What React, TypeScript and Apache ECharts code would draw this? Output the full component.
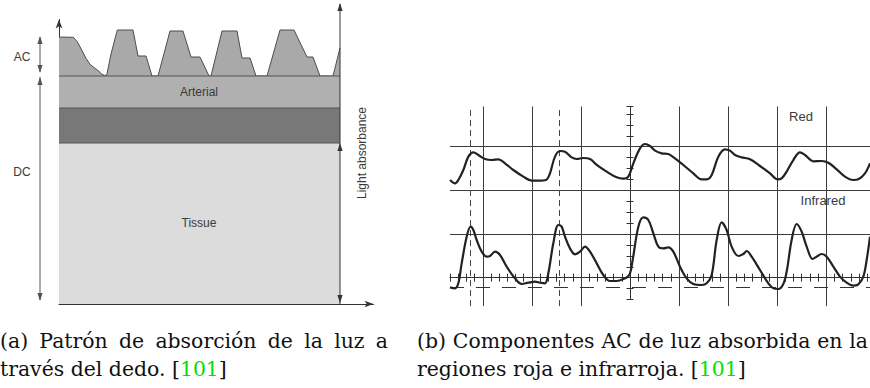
import React, { useEffect, useRef } from 'react';
import * as echarts from 'echarts';

// ---------- Panel (a): absorption pattern (units: absorbance, time) ----------
const AC_WAVE: [number, number][] = [
  [0, 267], [14.3, 266.7], [18.3, 262.3], [22.7, 254], [27, 245.7], [31, 239.7], [36, 235.7],
  [39.3, 233.3], [42.7, 230], [45.3, 228.7], [47.7, 228.7], [52, 250], [58.3, 274], [74, 274],
  [79, 248], [87, 248], [93, 228], [99, 228], [111, 273], [124, 273], [132, 247], [141, 247],
  [150, 228], [152, 228], [163, 273], [178, 273], [183, 246], [191, 246], [197, 228], [208, 228],
  [221, 274], [235, 274], [248, 247], [254, 247], [261, 228], [274, 228], [281, 256],
];
const LAYER_NAMES = ['Arterial', 'Venous', 'Tissue'];
const LAYER_TOPS = [228, 196, 161];
const PANEL_A_END = 281;

// ---------- Panel (b): AC components (units: scope divisions) ----------
const RED: [number, number][] = [
  [-3.669, 2.237], [-3.567, 2.161], [-3.499, 2.237], [-3.397, 2.466], [-3.295, 2.772], [-3.193, 2.871],
  [-3.092, 2.81], [-2.956, 2.718], [-2.82, 2.695], [-2.684, 2.711], [-2.548, 2.619], [-2.378, 2.466],
  [-2.174, 2.314], [-2.004, 2.222], [-1.868, 2.222], [-1.712, 2.237], [-1.631, 2.39], [-1.529, 2.772],
  [-1.427, 2.901], [-1.325, 2.886], [-1.189, 2.756], [-1.087, 2.718], [-0.951, 2.741], [-0.815, 2.718],
  [-0.679, 2.581], [-0.476, 2.428], [-0.272, 2.298], [-0.136, 2.268], [-0.034, 2.314], [0.068, 2.619],
  [0.204, 2.962], [0.306, 3.062], [0.408, 3.016], [0.51, 2.909], [0.645, 2.848], [0.781, 2.833],
  [0.917, 2.733], [1.087, 2.581], [1.291, 2.39], [1.461, 2.253], [1.563, 2.253], [1.665, 2.352],
  [1.8, 2.772], [1.936, 2.94], [2.038, 2.909], [2.14, 2.81], [2.276, 2.756], [2.446, 2.711],
  [2.65, 2.558], [2.854, 2.39], [3.01, 2.253], [3.092, 2.275], [3.193, 2.428], [3.329, 2.695],
  [3.465, 2.871], [3.567, 2.81], [3.737, 2.665], [3.907, 2.672], [4.043, 2.634], [4.213, 2.482],
  [4.382, 2.314], [4.552, 2.237], [4.654, 2.253], [4.79, 2.39], [4.892, 2.619],
];
const INFRARED: [number, number][] = [
  [-3.669, -0.221], [-3.567, -0.243], [-3.499, -0.129], [-3.431, 0.329], [-3.329, 0.94], [-3.248, 1.169],
  [-3.193, 1.092], [-3.125, 0.863], [-3.023, 0.596], [-2.922, 0.482], [-2.854, 0.497], [-2.752, 0.596],
  [-2.65, 0.52], [-2.514, 0.253], [-2.344, -0.014], [-2.208, -0.144], [-2.072, -0.114], [-1.936, -0.091],
  [-1.834, -0.114], [-1.733, -0.129], [-1.665, 0.1], [-1.563, 0.787], [-1.461, 1.207], [-1.393, 1.169],
  [-1.325, 0.94], [-1.223, 0.672], [-1.121, 0.535], [-1.019, 0.596], [-0.917, 0.711], [-0.815, 0.596],
  [-0.679, 0.329], [-0.544, 0.062], [-0.408, -0.076], [-0.272, -0.076], [-0.136, -0.03], [-0.014, 0.062],
  [0.054, 0.405], [0.17, 1.169], [0.272, 1.382], [0.374, 1.321], [0.476, 1.016], [0.578, 0.711],
  [0.679, 0.672], [0.781, 0.695], [0.883, 0.596], [1.019, 0.253], [1.155, -0.014], [1.291, -0.144],
  [1.461, -0.167], [1.563, -0.129], [1.665, 0.062], [1.767, 0.863], [1.868, 1.268], [1.97, 1.092],
  [2.072, 0.711], [2.208, 0.497], [2.31, 0.543], [2.378, 0.611], [2.48, 0.482], [2.65, 0.176],
  [2.82, -0.129], [2.922, -0.243], [3.023, -0.259], [3.125, -0.144], [3.193, 0.138], [3.295, 0.863],
  [3.397, 1.23], [3.499, 1.054], [3.601, 0.711], [3.723, 0.428], [3.805, 0.482], [3.907, 0.543],
  [4.009, 0.482], [4.145, 0.253], [4.28, 0.024], [4.416, -0.114], [4.552, -0.182], [4.654, -0.152],
  [4.756, 0.024], [4.824, 0.405], [4.892, 0.94],
];
const GRID_X = [-3, -2, -1, 1, 2, 3, 4];
const GRID_Y = [1, 2, 3];
const DASH_X = [-3.247, -1.447];
const DASH_Y = [-0.206];

// ---------- captions ----------
const CAP_A1 = '(a) Patrón de absorción de la luz a';
const CAP_A2 = 'través del dedo. [';
const CAP_B1 = '(b) Componentes AC de luz absorbida en la';
const CAP_B2 = 'regiones roja e infrarroja. [';
const CITE = '101';

// ---------- layout ----------
const A_LEFT = 59, A_TOP = 19.5, A_W = 314.5, A_H = 284.5;
const B_X0 = 630, B_Y0 = 277.7, B_UX = 49.06, B_UY = 43.67;
const B_XMIN = -3.669, B_XMAX = 4.95, B_YMIN = -0.65, B_YMAX = 3.92;
const T_XMIN = -22 / 6, T_YMIN = -0.5;

const LAYER_FILLS = ['#b0b0b0', '#787878', '#dcdcdc'];
const SANS = '"Liberation Sans", Arial, sans-serif';
const SERIF = '"DejaVu Serif", serif';
const CAP_Y1 = 341, CAP_Y2 = 369;
const CAP_B2_WIDTH = 329; // measured span of "regiones roja e infrarroja. [101]"

function arrow(x: number, tip: number, dir: 'up' | 'down', color: string) {
  const s = dir === 'up' ? 1 : -1;
  return {
    type: 'polygon', silent: true, z: 20,
    shape: { points: [[x, tip], [x - 2.6, tip + s * 8], [x + 2.6, tip + s * 8]] },
    style: { fill: color },
  };
}
function vline(x: number, y1: number, y2: number, color: string) {
  return { type: 'line', silent: true, z: 19, shape: { x1: x, y1, x2: x, y2 }, style: { stroke: color, lineWidth: 1 } };
}
function label(text: string, x: number, y: number, size: number, extra: any = {}) {
  return {
    type: 'text', silent: true, z: 20, x, y, ...extra,
    style: { text, fill: '#3a3a3a', fontSize: size, fontFamily: SANS, align: 'center', verticalAlign: 'middle' },
  };
}

export default function App() {
  const ref = useRef<HTMLDivElement>(null);
  useEffect(() => {
    if (!ref.current) return;
    const chart = echarts.init(ref.current, undefined, { renderer: 'svg' });
    const ctx = document.createElement('canvas').getContext('2d')!;
    ctx.font = `100px ${SERIF}`;
    const capSize = Math.min(22, Math.max(16, (100 * CAP_B2_WIDTH) / ctx.measureText(CAP_B2 + CITE + ']').width));
    ctx.font = `${capSize}px ${SERIF}`;
    const w = (s: string) => ctx.measureText(s).width;
    const capText = (text: string, x: number, y: number, fill = '#111') => ({
      type: 'text', silent: true, x, y,
      style: { text, fill, fontSize: capSize, fontFamily: SERIF, verticalAlign: 'middle' },
    });
    const justified = (line: string, x0: number, width: number, y: number) => {
      const words = line.split(' ');
      const total = words.reduce((a, s) => a + w(s), 0);
      const gap = Math.max(w(' '), (width - total) / (words.length - 1));
      let x = x0;
      return words.map((s) => {
        const el = capText(s, x, y);
        x += w(s) + gap;
        return el;
      });
    };
    const citeLine = (pre: string, x0: number, y: number) => {
      const x1 = x0 + w(pre);
      const x2 = x1 + w(CITE);
      return [capText(pre, x0, y), capText(CITE, x1, y, '#00e000'), capText(']', x2, y)];
    };

    const hidden = { show: false };
    const tickAxis = (pos: string, min: number, max: number, interval: number, len: number) => ({
      type: 'value', gridIndex: 2, position: pos, min, max, interval,
      axisLine: { show: true, onZero: true, lineStyle: { color: '#333', width: 1 } },
      axisTick: { show: true, inside: true, length: len, lineStyle: { color: '#333', width: 1 } },
      axisLabel: hidden, splitLine: hidden, minorTick: hidden,
    });
    const lineAxisA = (extra: any) => ({
      type: 'value', gridIndex: 0, ...extra,
      axisLine: { show: true, symbol: ['none', 'arrow'], symbolSize: [5, 9], lineStyle: { color: '#333', width: 1 } },
      axisTick: hidden, axisLabel: hidden, splitLine: hidden,
    });
    const option: any = {
      animation: false,
      grid: [
        { left: A_LEFT, top: A_TOP, width: A_W, height: A_H, containLabel: false, outerBoundsMode: 'none' },
        {
          left: B_X0 + B_XMIN * B_UX, top: B_Y0 - B_YMAX * B_UY,
          width: (B_XMAX - B_XMIN) * B_UX, height: (B_YMAX - B_YMIN) * B_UY,
          containLabel: false, outerBoundsMode: 'none',
        },
        {
          left: B_X0 + T_XMIN * B_UX, top: B_Y0 - B_YMAX * B_UY,
          width: (B_XMAX - T_XMIN) * B_UX, height: (B_YMAX - T_YMIN) * B_UY,
          containLabel: false, outerBoundsMode: 'none',
        },
      ],
      xAxis: [
        lineAxisA({ min: 0, max: A_W }),
        { type: 'value', gridIndex: 1, min: B_XMIN, max: B_XMAX, show: false },
        tickAxis('bottom', T_XMIN, B_XMAX, 1 / 6, 4),
        tickAxis('top', T_XMIN, B_XMAX, 1 / 6, 4),
      ],
      yAxis: [
        lineAxisA({ min: 0, max: A_H }),
        { type: 'value', gridIndex: 1, min: B_YMIN, max: B_YMAX, show: false },
        tickAxis('left', T_YMIN, B_YMAX, 0.25, 3.5),
        tickAxis('right', T_YMIN, B_YMAX, 0.25, 3.5),
      ],
      series: [
        {
          type: 'line', name: 'AC', xAxisIndex: 0, yAxisIndex: 0, data: AC_WAVE, symbol: 'none', silent: true, z: 2,
          lineStyle: { color: '#4d4d4d', width: 1 }, areaStyle: { color: '#a9a9a9', opacity: 1, origin: 'start' },
        },
        ...LAYER_TOPS.map((top, i) => ({
          type: 'line', name: LAYER_NAMES[i], xAxisIndex: 0, yAxisIndex: 0, symbol: 'none', silent: true, z: 3 + i,
          data: [[0, top], [PANEL_A_END, top]],
          lineStyle: { color: '#555', width: 1 }, areaStyle: { color: LAYER_FILLS[i], opacity: 1, origin: 'start' },
        })),
        {
          type: 'line', name: 'Red', xAxisIndex: 1, yAxisIndex: 1, data: RED, symbol: 'none', smooth: 0.35,
          silent: true, z: 5, lineStyle: { color: '#222', width: 2.2 },
          markLine: {
            silent: true, symbol: ['none', 'none'], label: { show: false },
            lineStyle: { color: '#3c3c3c', width: 1, type: 'solid' },
            data: [
              ...GRID_X.map((v) => ({ xAxis: v })),
              ...GRID_Y.map((v) => ({ yAxis: v })),
              ...DASH_X.map((v) => ({ xAxis: v, lineStyle: { type: [6, 4], color: '#444', width: 1 } })),
              ...DASH_Y.map((v) => ({ yAxis: v, lineStyle: { type: [14, 12], color: '#333', width: 1 } })),
            ],
          },
        },
        {
          type: 'line', name: 'Infrared', xAxisIndex: 1, yAxisIndex: 1, data: INFRARED, symbol: 'none', smooth: 0.35,
          silent: true, z: 5, lineStyle: { color: '#222', width: 2.2 },
        },
      ],
      graphic: [
        vline(340, 4, 304, '#333'),
        arrow(340, 3, 'up', '#333'),
        arrow(340, 143, 'up', '#333'),
        arrow(340, 303, 'down', '#333'),
        vline(40, 37, 72, '#555'),
        arrow(40, 36, 'up', '#555'),
        arrow(40, 73, 'down', '#555'),
        vline(40, 77, 300, '#555'),
        arrow(40, 77, 'up', '#555'),
        arrow(40, 301, 'down', '#555'),
        label('AC', 22, 57, 12),
        label('DC', 22, 172, 12),
        label('Arterial', 199, 92, 12),
        label('Tissue', 199, 223, 12),
        label('Light absorbance', 362, 153, 12, { rotation: Math.PI / 2 }),
        label('Red', 801, 116, 13),
        label('Infrared', 823, 200, 13),
        ...justified(CAP_A1, 0, 388, CAP_Y1),
        ...citeLine(CAP_A2, 0, CAP_Y2),
        ...justified(CAP_B1, 417, 451, CAP_Y1),
        ...citeLine(CAP_B2, 417, CAP_Y2),
      ],
    };
    chart.setOption(option);
    return () => chart.dispose();
  }, []);
  return <div ref={ref} style={{ position: 'fixed', left: 0, top: 0, width: 870, height: 388, background: '#fff' }} />;
}
